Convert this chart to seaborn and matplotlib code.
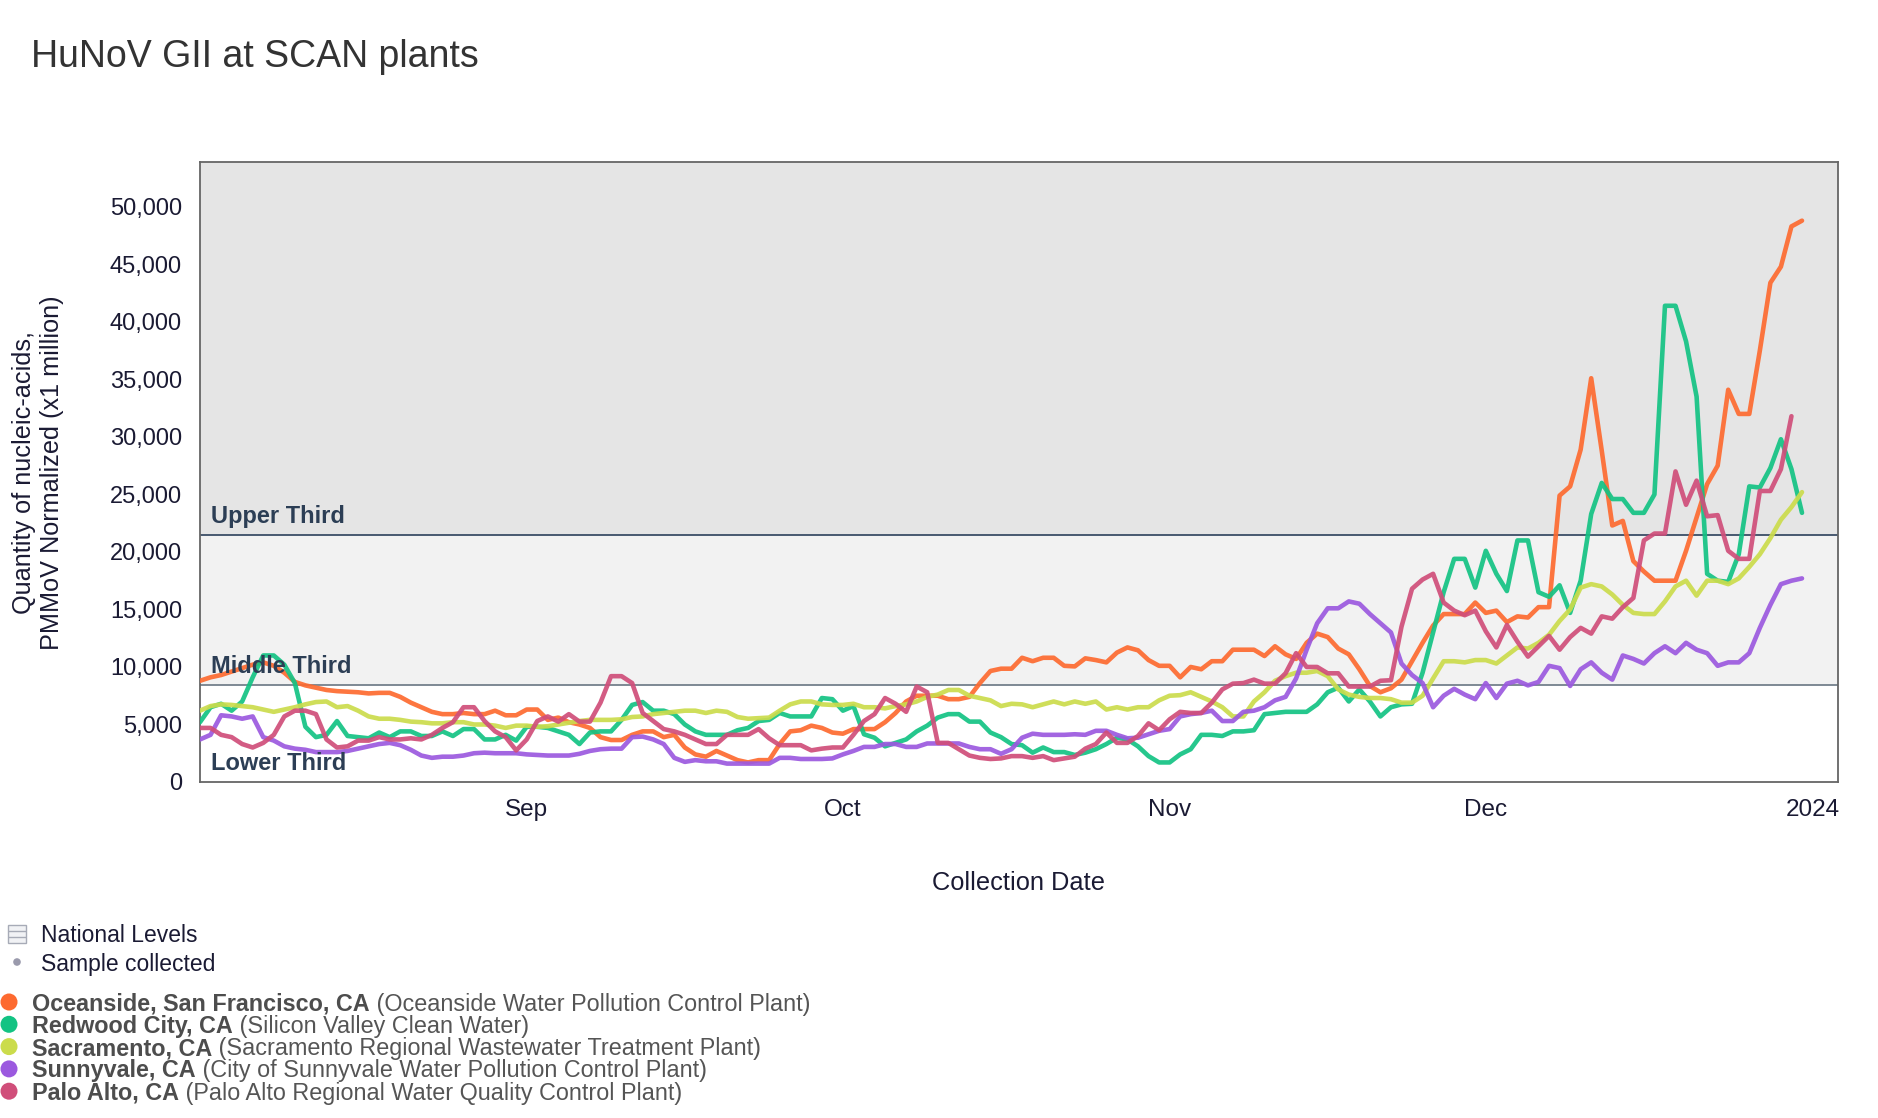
import matplotlib
matplotlib.use("Agg")
import matplotlib.pyplot as plt
from matplotlib.patches import Rectangle
import seaborn as sns
import pandas as pd
import numpy as np

# Daily values from 2023-08-01, in thousands (PMMoV normalized, x1 million)
oceanside = [
    8.8, 9.1, 9.3, 9.6, 9.9, 10.2, 10.4, 10.1, 9.5, 8.7, 8.4, 8.2, 8.0, 7.9, 7.85, 7.8,
    7.7, 7.75, 7.75, 7.4, 6.9, 6.5, 6.1, 5.9, 5.9, 6.0, 5.9, 5.9, 6.2, 5.8, 5.8, 6.3,
    6.3, 5.4, 5.6, 5.2, 5.0, 4.7, 3.9, 3.65, 3.65, 4.1, 4.4, 4.4, 3.9, 4.1, 3.0, 2.4,
    2.2, 2.7, 2.3, 1.9, 1.7, 1.9, 1.9, 3.3, 4.4, 4.5, 4.9, 4.7, 4.3, 4.2, 4.6,
    4.6, 4.6, 5.2, 6.0, 7.0, 7.5, 7.5, 7.5, 7.2, 7.2, 7.4, 8.6, 9.65, 9.85, 9.85, 10.8,
    10.5, 10.8, 10.8, 10.1, 10.05, 10.75, 10.6, 10.4, 11.25, 11.7, 11.45, 10.6, 10.1, 10.1, 9.1,
    10.0, 9.8, 10.5, 10.5, 11.5, 11.5, 11.5, 10.95, 11.8, 11.1, 10.7, 12.1, 12.9, 12.6, 11.6,
    11.1, 9.8, 8.35, 7.8, 8.15, 8.9, 10.5, 12.1, 13.6, 14.6, 14.6, 14.6, 15.6, 14.7, 14.9, 13.9,
    14.4, 14.3, 15.2, 15.2, 24.9, 25.7, 28.9, 35.1, 28.8, 22.3, 22.7, 19.2, 18.3, 17.5,
    17.5, 17.5, 20.1, 23.0, 25.9, 27.5, 34.1, 32.0, 32.0, 37.5, 43.4, 44.8, 48.3, 48.8,
]
redwood_city = [
    5.2, 6.5, 6.8, 6.2, 7.0, 9.1, 11.0, 11.0, 10.2, 8.6, 4.8, 3.9, 4.1, 5.3, 4.0, 3.9,
    3.8, 4.3, 3.9, 4.4, 4.4, 4.0, 4.0, 4.4, 4.0, 4.6, 4.6, 3.7, 3.7, 4.1, 3.6, 4.8,
    4.8, 4.7, 4.4, 4.1, 3.3, 4.3, 4.4, 4.4, 5.4, 6.7, 6.95, 6.2, 6.2, 5.9, 5.0, 4.4,
    4.1, 4.1, 4.1, 4.5, 4.7, 5.3, 5.4, 6.0, 5.7, 5.7, 5.7, 7.3, 7.2, 6.2, 6.6,
    4.15, 3.85, 3.1, 3.4, 3.7, 4.4, 4.9, 5.6, 5.9, 5.9, 5.25, 5.25, 4.3, 3.9, 3.3, 3.2,
    2.55, 3.0, 2.6, 2.6, 2.35, 2.55, 2.85, 3.3, 3.85, 3.7, 3.1, 2.25, 1.7, 1.7, 2.4,
    2.85, 4.1, 4.1, 4.0, 4.4, 4.4, 4.5, 5.9, 6.0, 6.1, 6.1, 6.1, 6.75, 7.8, 8.2, 7.0,
    8.05, 7.0, 5.7, 6.5, 6.75, 6.8, 9.5, 13.0, 16.5, 19.4, 19.4, 16.9, 20.1, 18.1, 16.6,
    21.0, 21.0, 16.5, 16.1, 17.1, 14.7, 17.5, 23.3, 26.0, 24.6, 24.6, 23.4, 23.4, 25.0,
    41.4, 41.4, 38.3, 33.5, 18.1, 17.5, 17.4, 19.8, 25.7, 25.6, 27.3, 29.8, 27.2, 23.4,
]
sacramento = [
    6.2, 6.6, 6.75, 6.7, 6.6, 6.5, 6.3, 6.1, 6.3, 6.5, 6.75, 6.95, 7.0, 6.5, 6.6, 6.2,
    5.7, 5.5, 5.5, 5.4, 5.25, 5.2, 5.1, 5.1, 5.2, 5.2, 5.0, 5.0, 4.9, 4.7, 4.9, 4.9,
    4.8, 4.85, 5.0, 5.15, 5.3, 5.4, 5.4, 5.4, 5.45, 5.65, 5.7, 5.9, 6.0, 6.1, 6.2, 6.2,
    6.0, 6.2, 6.1, 5.65, 5.5, 5.55, 5.6, 6.2, 6.75, 7.0, 7.0, 6.75, 6.7, 6.7, 6.8,
    6.5, 6.5, 6.4, 6.6, 6.75, 7.0, 7.4, 7.6, 8.0, 8.0, 7.5, 7.3, 7.1, 6.6, 6.8, 6.75,
    6.5, 6.75, 7.0, 6.75, 7.0, 6.8, 7.0, 6.3, 6.5, 6.3, 6.5, 6.5, 7.1, 7.5, 7.55,
    7.8, 7.4, 7.0, 6.5, 5.7, 5.7, 7.0, 7.8, 8.8, 9.2, 9.5, 9.5, 9.65, 9.2, 8.05, 7.6,
    7.4, 7.3, 7.3, 7.2, 6.9, 6.9, 7.5, 9.0, 10.5, 10.5, 10.4, 10.6, 10.6, 10.3,
    11.0, 11.7, 11.6, 12.1, 12.8, 14.0, 15.0, 16.9, 17.2, 17.0, 16.3, 15.4, 14.7, 14.6,
    14.6, 15.7, 17.0, 17.5, 16.2, 17.5, 17.5, 17.2, 17.7, 18.7, 19.8, 21.2, 22.8, 23.9, 25.2,
]
sunnyvale = [
    3.7, 4.1, 5.8, 5.7, 5.5, 5.7, 3.9, 3.6, 3.1, 2.9, 2.8, 2.6, 2.6, 2.6, 2.7, 2.9,
    3.1, 3.3, 3.4, 3.2, 2.8, 2.3, 2.1, 2.2, 2.2, 2.3, 2.5, 2.55, 2.5, 2.5, 2.5, 2.4,
    2.35, 2.3, 2.3, 2.3, 2.45, 2.7, 2.85, 2.9, 2.9, 3.9, 3.95, 3.7, 3.3, 2.1, 1.75, 1.9,
    1.8, 1.8, 1.6, 1.6, 1.6, 1.6, 1.6, 2.1, 2.1, 2.0, 2.0, 2.0, 2.05, 2.4, 2.7,
    3.05, 3.05, 3.3, 3.3, 3.05, 3.05, 3.35, 3.35, 3.35, 3.35, 3.05, 2.85, 2.85, 2.45, 2.85, 3.85,
    4.2, 4.1, 4.1, 4.1, 4.15, 4.1, 4.45, 4.45, 4.1, 3.8, 3.85, 4.15, 4.45, 4.6, 5.7,
    5.9, 6.0, 6.2, 5.3, 5.3, 6.1, 6.2, 6.5, 7.1, 7.4, 9.0, 11.5, 13.8, 15.1, 15.1, 15.7,
    15.5, 14.6, 13.8, 13.0, 10.3, 9.3, 8.6, 6.5, 7.5, 8.1, 7.6, 7.2, 8.6, 7.3,
    8.55, 8.8, 8.4, 8.7, 10.1, 9.9, 8.35, 9.8, 10.4, 9.5, 8.9, 11.0, 10.7, 10.3,
    11.2, 11.8, 11.2, 12.1, 11.5, 11.2, 10.1, 10.4, 10.4, 11.2, 13.4, 15.4, 17.2, 17.5, 17.7,
]
palo_alto = [
    4.7, 4.7, 4.1, 3.9, 3.3, 3.0, 3.4, 4.1, 5.7, 6.2, 6.2, 5.9, 3.7, 3.0, 3.1, 3.6,
    3.6, 3.9, 3.7, 3.7, 3.8, 3.7, 4.1, 4.7, 5.2, 6.5, 6.5, 5.3, 4.4, 3.9, 2.75, 3.7,
    5.3, 5.7, 5.25, 5.9, 5.25, 5.25, 6.9, 9.2, 9.2, 8.6, 6.0, 5.3, 4.6, 4.4, 4.1, 3.7,
    3.3, 3.3, 4.1, 4.1, 4.1, 4.6, 3.8, 3.2, 3.2, 3.2, 2.75, 2.9, 3.0, 3.0, 4.1,
    5.3, 5.9, 7.3, 6.8, 6.1, 8.3, 7.8, 3.4, 3.4, 2.85, 2.3, 2.1, 2.0, 2.05, 2.25, 2.25,
    2.1, 2.25, 1.9, 2.05, 2.2, 2.9, 3.3, 4.3, 3.4, 3.4, 4.0, 5.1, 4.5, 5.45, 6.1,
    6.0, 6.0, 6.9, 8.05, 8.55, 8.6, 8.9, 8.55, 8.55, 9.45, 11.2, 10.0, 10.0, 9.45, 9.45, 8.3,
    8.3, 8.3, 8.8, 8.85, 13.5, 16.8, 17.6, 18.1, 15.6, 14.9, 14.5, 14.9, 13.1, 11.7,
    13.65, 12.2, 10.9, 11.8, 12.7, 11.5, 12.6, 13.4, 12.9, 14.4, 14.2, 15.2, 16.0, 21.0,
    21.6, 21.6, 27.0, 24.1, 26.2, 23.1, 23.2, 20.1, 19.4, 19.4, 25.3, 25.3, 27.2, 31.8,
]

site_names = ["Oceanside, San Francisco, CA", "Redwood City, CA", "Sacramento, CA",
              "Sunnyvale, CA", "Palo Alto, CA"]
plant_names = ["(Oceanside Water Pollution Control Plant)", "(Silicon Valley Clean Water)",
               "(Sacramento Regional Wastewater Treatment Plant)",
               "(City of Sunnyvale Water Pollution Control Plant)",
               "(Palo Alto Regional Water Quality Control Plant)"]
site_colors = ["#fd6a30", "#13c383", "#cbdc4c", "#9b59df", "#d04e7a"]

# national level cut points (thirds)
level_cuts = [8400, 21500]
level_labels = ["Lower Third", "Middle Third", "Upper Third"]

month_ticks = ["2023-09-01", "2023-10-01", "2023-11-01", "2023-12-01", "2024-01-01"]
month_labels = ["Sep", "Oct", "Nov", "Dec", "2024"]
y_ticks = [0, 5000, 10000, 15000, 20000, 25000, 30000, 35000, 40000, 45000, 50000]

# long table for seaborn
frames = []
for name, vals in zip(site_names, [oceanside, redwood_city, sacramento, sunnyvale, palo_alto]):
    frames.append(pd.DataFrame({
        "date": pd.date_range("2023-08-01", periods=len(vals), freq="D"),
        "value": np.array(vals) * 1000,
        "site": name,
    }))
df = pd.concat(frames, ignore_index=True)
sample_dates = pd.date_range("2023-08-01", periods=len(oceanside), freq="D")

sns.set_style("white")
plt.rcParams["font.family"] = ["Liberation Sans", "DejaVu Sans"]

W, H = 1878, 1118
fig = plt.figure(figsize=(W / 100, H / 100), dpi=100)
ax = fig.add_axes([200 / W, 1 - 782 / H, 1638 / W, 620 / H])

y_top = 53900
ax.axhspan(level_cuts[1], y_top, color="#e5e5e5", zorder=0, lw=0)
ax.axhspan(level_cuts[0], level_cuts[1], color="#f2f2f2", zorder=0, lw=0)
ax.axhline(level_cuts[1], color="#3b4e66", lw=1.3, zorder=1)
ax.axhline(level_cuts[0], color="#74808c", lw=1.3, zorder=1)

sns.lineplot(data=df, x="date", y="value", hue="site", hue_order=site_names,
             palette=site_colors, linewidth=3.3, alpha=0.92, legend=False,
             ax=ax, zorder=3)

# band labels
label_y = [1630, level_cuts[0] + 1650, level_cuts[1] + 1570]
for txt, yy in zip(level_labels, label_y):
    ax.text(0.0067, yy, txt, transform=ax.get_yaxis_transform(), fontsize=17,
            fontweight="bold", color="#2c3e55", va="center", ha="left", zorder=5)

ax.set_xlim(pd.Timestamp("2023-08-01"), pd.Timestamp("2024-01-03 10:00"))
ax.set_ylim(0, y_top)

ax.set_xticks(pd.to_datetime(month_ticks))
ax.set_xticklabels(month_labels)
ax.set_xticks(sample_dates, minor=True)
ax.tick_params(axis="x", which="major", direction="inout", length=15, width=1.3,
               color="#666666", pad=5, labelsize=17.5, labelcolor="#1a1a33")
ax.tick_params(axis="x", which="minor", direction="in", length=6.5, width=0.9,
               color="#9a9a9a")
ax.set_yticks(y_ticks)
ax.set_yticklabels([f"{v:,}" for v in y_ticks])
ax.tick_params(axis="y", length=0, pad=13, labelsize=17, labelcolor="#1a1a33")
ax.set_xlabel("")
ax.set_ylabel("")
for s in ax.spines.values():
    s.set_visible(True)
    s.set_color("#666666")
    s.set_linewidth(1.3)

# overlay in pixel coordinates for title, axis titles and legend
ov = fig.add_axes([0, 0, 1, 1])
ov.set_xlim(0, W)
ov.set_ylim(H, 0)
ov.axis("off")
ov.patch.set_visible(False)

ov.text(31, 57, "HuNoV GII at SCAN plants", fontsize=27, color="#333333",
        va="center", ha="left")
ov.text(1019, 883, "Collection Date", fontsize=18.3, color="#1a1a33",
        ha="center", va="center")
ov.text(38, 473, "Quantity of nucleic-acids,\nPMMoV Normalized (x1 million)",
        rotation=90, fontsize=18.2, color="#1a1a33", ha="center", va="center",
        multialignment="center")

# legend: national levels + sample collected
ov.add_patch(Rectangle((8, 925), 18, 18, facecolor="#f1f2f5", edgecolor="#a7abb7", lw=1))
ov.hlines([931, 937], 8, 26, color="#a7abb7", lw=1)
ov.text(41, 935, "National Levels", fontsize=16.5, color="#1a1a33", va="center")
ov.scatter([17], [962], s=30, color="#9a9aac", edgecolors="none")
ov.text(41, 965, "Sample collected", fontsize=16.5, color="#1a1a33", va="center")

for i, (name, plant, col) in enumerate(zip(site_names, plant_names, site_colors)):
    yy = 1004 + i * 22.3
    ov.scatter([9], [yy - 2], s=150, color=col, edgecolors="none", zorder=4)
    t = ov.text(32, yy, name, fontsize=16.8, fontweight="bold", color="#4d4d4d", va="center")
    ov.annotate(" " + plant, xy=(1, 0.5), xycoords=t, fontsize=16.8, color="#555555",
                va="center", ha="left")

plt.savefig("out.png", dpi=100)
plt.close()
